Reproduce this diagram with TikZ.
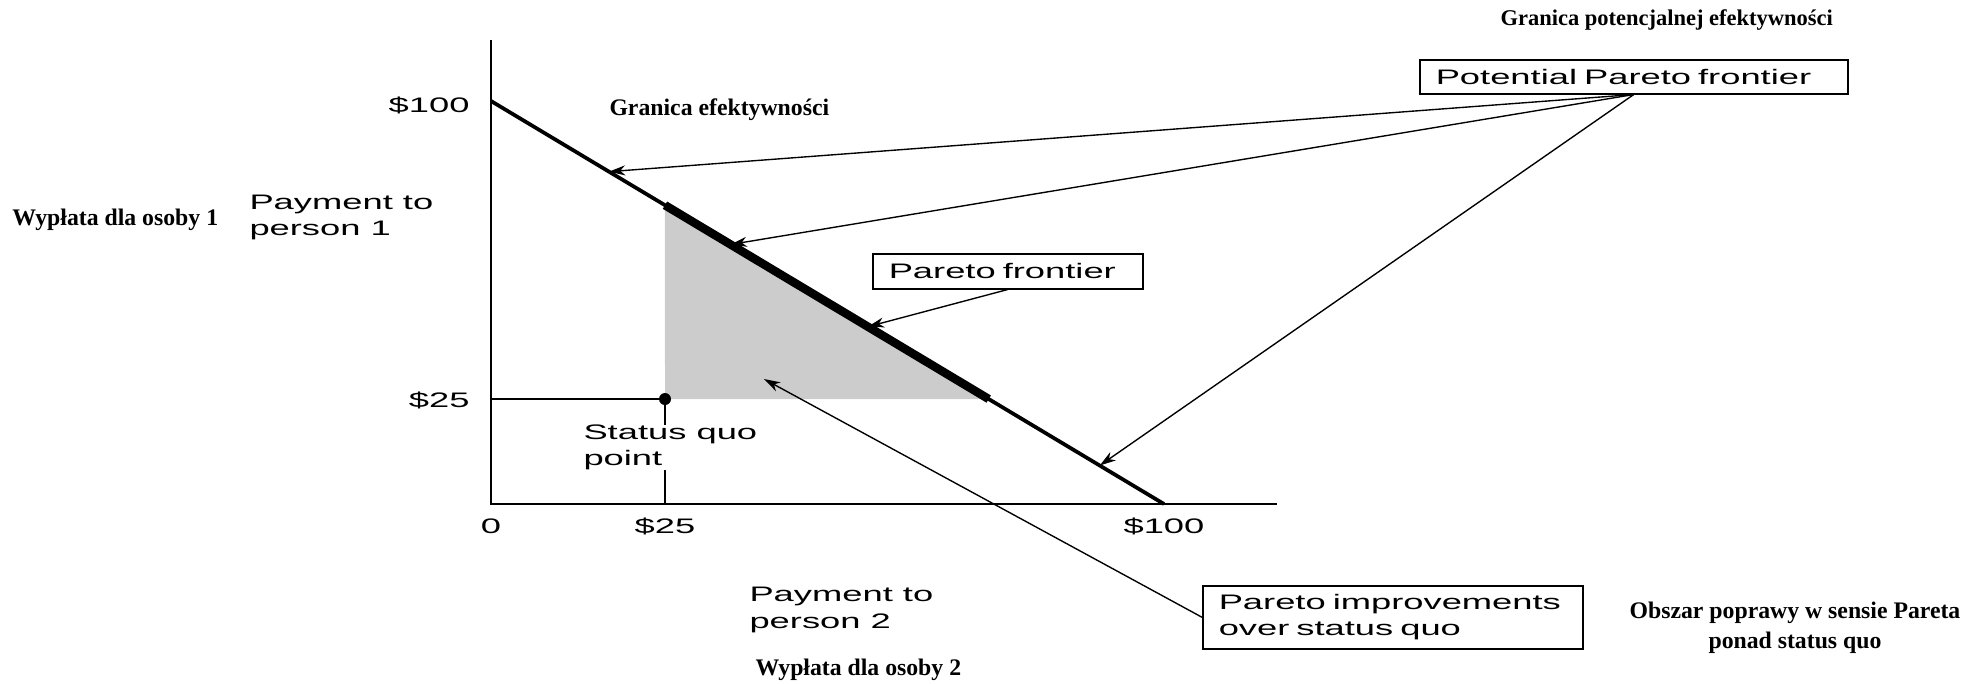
\documentclass[tikz,border=0pt]{standalone}
\usepackage{fontspec}
\newfontfamily\engfont[FakeStretch=1.73]{Liberation Sans}
\newfontfamily\plfont{Liberation Serif}
\usetikzlibrary{arrows.meta,calc}
\begin{document}
\begin{tikzpicture}[x=0.4pt,y=-0.4pt,
  eng/.style={font=\engfont\fontsize{8.4}{10.6}\selectfont, inner sep=0pt, align=left},
  pl/.style={font=\plfont\bfseries\fontsize{9.5}{12}\selectfont, inner sep=0pt},
  lbox/.style={draw, line width=0.6pt, font=\engfont\fontsize{8.4}{10.6}\selectfont, anchor=north west, inner xsep=6.4pt, inner ysep=0pt, align=left},
  ann/.style={line width=0.55pt, -{Stealth[length=6.5pt,width=4pt,inset=2pt]}},
  axisline/.style={line width=0.7pt},
  thinline/.style={line width=0.6pt},
]
\useasboundingbox (0,0) rectangle (1982,683);
% axes and frontier geometry
\coordinate (O) at (491,504);
\coordinate (ytop) at (491,40);
\coordinate (xend) at (1277,504);
\coordinate (F0) at (491,101);
\coordinate (F1) at (1164,504);
\coordinate (SQ) at (665,399);
\coordinate (y25) at (491,399);
\coordinate (x25) at (665,504);
\coordinate (PA) at ($(F0)!0.2585!(F1)$);
\coordinate (PB) at ($(F0)!0.7395!(F1)$);
\coordinate (a1) at ($(F0)!0.1753!(F1)$);
\coordinate (a2) at ($(F0)!0.356!(F1)$);
\coordinate (a3) at ($(F0)!0.9045!(F1)$);
\coordinate (a4) at ($(F0)!0.560!(F1)$);
\coordinate (tip) at (764,379);

\fill[gray!40] (PA) -- (SQ) -- (PB) -- cycle;
\draw[axisline] (ytop) -- (O) -- (xend);
\draw[line width=1.5pt] (F0) -- (F1);
\draw[line width=3.4pt] (PA) -- (PB);
\draw[thinline] (y25) -- (SQ) -- (x25);
\fill (SQ) circle[radius=6];

% boxes
\node[lbox, text width=158.4pt, minimum height=13.6pt] (ppf) at (1419,59) {Potential Pareto frontier};
\node[lbox, text width=95.2pt, minimum height=14pt] (pf) at (872,253) {Pareto frontier};
\node[lbox, text width=139.2pt, minimum height=25.2pt] (pi) at (1202,585) {Pareto improvements\\over status quo};

% connectors
\draw[ann] (ppf.south) -- (a1);
\draw[ann] (ppf.south) -- (a2);
\draw[ann] (ppf.south) -- (a3);
\draw[ann] (pf.south) -- (a4);
\draw[ann] (pi.west) -- (tip);

% axis labels
\node[eng, anchor=base east] (l100y) at (470,112) {\$100};
\node[eng, anchor=base east] (l25y) at (470,407) {\$25};
\node[eng, anchor=base] (l0) at (491,533) {0};
\node[eng, anchor=base] (l25x) at (665,533) {\$25};
\node[eng, anchor=base] (l100x) at (1164,533) {\$100};
\node[eng, anchor=north west] (p1) at (249,194.5) {Payment to\\person 1};
\node[eng, anchor=north west] (p2) at (749,587) {Payment to\\person 2};
\node[eng, anchor=north west, fill=white] (sq) at (583,424) {Status quo\\point};

% Polish captions
\node[pl, anchor=base west] (g1) at (609,115) {Granica efektywności};
\node[pl, anchor=base west, font=\plfont\bfseries\fontsize{9}{12}\selectfont] (g2) at (1500,25) {Granica potencjalnej efektywności};
\node[pl, anchor=base west] (w1) at (12,225.5) {Wypłata dla osoby 1};
\node[pl, anchor=base west] (w2) at (755,675) {Wypłata dla osoby 2};
\node[pl, anchor=north, align=center] (ob) at (1795,602) {Obszar poprawy w sensie Pareta\\ponad status quo};
\end{tikzpicture}
\end{document}
